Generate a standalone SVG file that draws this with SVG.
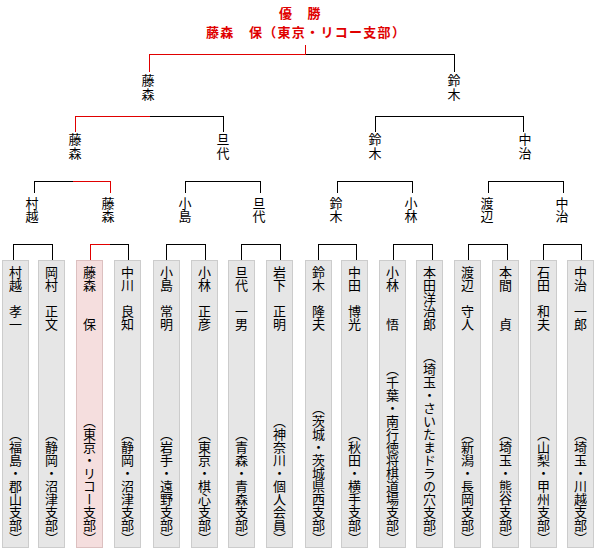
<svg xmlns="http://www.w3.org/2000/svg" width="596" height="550" viewBox="0 0 596 550">
<style>
text{font-family:"Noto Sans CJK JP","Noto Sans CJK SC",sans-serif;font-size:13px;fill:#000}
.t{font-size:13px;font-weight:bold;fill:#e00000;letter-spacing:1.3px}
.v{writing-mode:vertical-rl}
.ls{letter-spacing:1px}
.box rect{fill:#e6e6e6;stroke:#cccccc;stroke-width:1}
.box.win rect{fill:#f5dede;stroke:#dcc0c0}
.aff{text-anchor:end}
#connectors path{fill:none;stroke:#000;stroke-width:1}
#connectors path.r{stroke:#e00000}
</style>
<rect width="596" height="550" fill="#fff"/>
<g id="title">
<text class="t" x="279" y="18">優　勝</text>
<text class="t" x="206" y="37">藤森　保（東京・リコー支部）</text>
</g>
<g id="connectors" shape-rendering="crispEdges">
<path class="r" d="M305.5 45V54.5H149.5V72"/>
<path d="M305.5 54.5H454.5V72"/>
<path class="r" d="M75.5 132V116.5H149.5"/>
<path d="M149.5 116.5H223.5V132"/>
<path d="M375.5 132V116.5H523.5V132"/>
<path d="M34.5 193V181.5H72.5"/>
<path class="r" d="M72.5 181.5H110.5V193"/>
<path d="M185.5 193V181.5H260.5V193"/>
<path d="M337.5 193V181.5H412.5V193"/>
<path d="M488.5 193V181.5H563.5V193"/>
<path d="M13.5 260V244.5H52.5V260"/>
<path class="r" d="M90.5 260V244.5H109.5"/>
<path d="M109.5 244.5H128.5V260"/>
<path d="M166.5 260V244.5H205.5V260"/>
<path d="M241.5 260V244.5H280.5V260"/>
<path d="M318.5 260V244.5H356.5V260"/>
<path d="M393.5 260V244.5H432.5V260"/>
<path d="M468.5 260V244.5H507.5V260"/>
<path d="M543.5 260V244.5H581.5V260"/>
</g>
<g id="r4-fujimori"><text class="v ls" x="148" y="74">藤森</text></g>
<g id="r4-suzuki"><text class="v ls" x="454" y="74">鈴木</text></g>
<g id="r3-fujimori"><text class="v ls" x="75" y="133">藤森</text></g>
<g id="r3-tandai"><text class="v ls" x="223" y="133">旦代</text></g>
<g id="r3-suzuki"><text class="v ls" x="375" y="133">鈴木</text></g>
<g id="r3-nakaji"><text class="v ls" x="525" y="133">中治</text></g>
<g id="r2-murakoshi"><text class="v" x="32" y="197">村越</text></g>
<g id="r2-fujimori"><text class="v" x="108" y="197">藤森</text></g>
<g id="r2-kojima"><text class="v" x="185" y="197">小島</text></g>
<g id="r2-tandai"><text class="v" x="259" y="197">旦代</text></g>
<g id="r2-suzuki"><text class="v" x="336" y="197">鈴木</text></g>
<g id="r2-kobayashi"><text class="v" x="411" y="197">小林</text></g>
<g id="r2-watanabe"><text class="v" x="487" y="197">渡辺</text></g>
<g id="r2-nakaji"><text class="v" x="562" y="197">中治</text></g>
<g id="p1" class="box"><rect x="2.5" y="260.5" width="26" height="287"/><text class="v" x="15.5" y="266">村越　孝一</text><text class="v aff" x="15.5" y="545">（福島・郡山支部）</text></g>
<g id="p2" class="box"><rect x="38.5" y="260.5" width="26" height="287"/><text class="v" x="51.5" y="266">岡村　正文</text><text class="v aff" x="51.5" y="545">（静岡・沼津支部）</text></g>
<g id="p3" class="box win"><rect x="76.5" y="260.5" width="26" height="287"/><text class="v" x="89.5" y="266">藤森　　保</text><text class="v aff" x="89.5" y="545">（東京・リコー支部）</text></g>
<g id="p4" class="box"><rect x="114.5" y="260.5" width="26" height="287"/><text class="v" x="127.5" y="266">中川　良知</text><text class="v aff" x="127.5" y="545">（静岡・沼津支部）</text></g>
<g id="p5" class="box"><rect x="153.5" y="260.5" width="26" height="287"/><text class="v" x="166.5" y="266">小島　常明</text><text class="v aff" x="166.5" y="545">（岩手・遠野支部）</text></g>
<g id="p6" class="box"><rect x="191.5" y="260.5" width="26" height="287"/><text class="v" x="204.5" y="266">小林　正彦</text><text class="v aff" x="204.5" y="545">（東京・棋心支部）</text></g>
<g id="p7" class="box"><rect x="228.5" y="260.5" width="26" height="287"/><text class="v" x="241.5" y="266">旦代　一男</text><text class="v aff" x="241.5" y="545">（青森・青森支部）</text></g>
<g id="p8" class="box"><rect x="266.5" y="260.5" width="26" height="287"/><text class="v" x="279.5" y="266">岩下　正明</text><text class="v aff" x="279.5" y="545">（神奈川・個人会員）</text></g>
<g id="p9" class="box"><rect x="305.5" y="260.5" width="26" height="287"/><text class="v" x="318.5" y="266">鈴木　隆夫</text><text class="v aff" x="318.5" y="545">（茨城・茨城県西支部）</text></g>
<g id="p10" class="box"><rect x="341.5" y="260.5" width="26" height="287"/><text class="v" x="354.5" y="266">中田　博光</text><text class="v aff" x="354.5" y="545">（秋田・横手支部）</text></g>
<g id="p11" class="box"><rect x="379.5" y="260.5" width="26" height="287"/><text class="v" x="392.5" y="266">小林　　悟</text><text class="v aff" x="392.5" y="545">（千葉・南行徳将棋道場支部）</text></g>
<g id="p12" class="box"><rect x="416.5" y="260.5" width="26" height="287"/><text class="v" x="429.5" y="266">本田洋治郎</text><text class="v aff" x="429.5" y="545">（埼玉・さいたまドラの穴支部）</text></g>
<g id="p13" class="box"><rect x="454.5" y="260.5" width="26" height="287"/><text class="v" x="467.5" y="266">渡辺　守人</text><text class="v aff" x="467.5" y="545">（新潟・長岡支部）</text></g>
<g id="p14" class="box"><rect x="492.5" y="260.5" width="26" height="287"/><text class="v" x="505.5" y="266">本間　　貞</text><text class="v aff" x="505.5" y="545">（埼玉・熊谷支部）</text></g>
<g id="p15" class="box"><rect x="530.5" y="260.5" width="26" height="287"/><text class="v" x="543.5" y="266">石田　和夫</text><text class="v aff" x="543.5" y="545">（山梨・甲州支部）</text></g>
<g id="p16" class="box"><rect x="567.5" y="260.5" width="26" height="287"/><text class="v" x="580.5" y="266">中治　一郎</text><text class="v aff" x="580.5" y="545">（埼玉・川越支部）</text></g>
</svg>
